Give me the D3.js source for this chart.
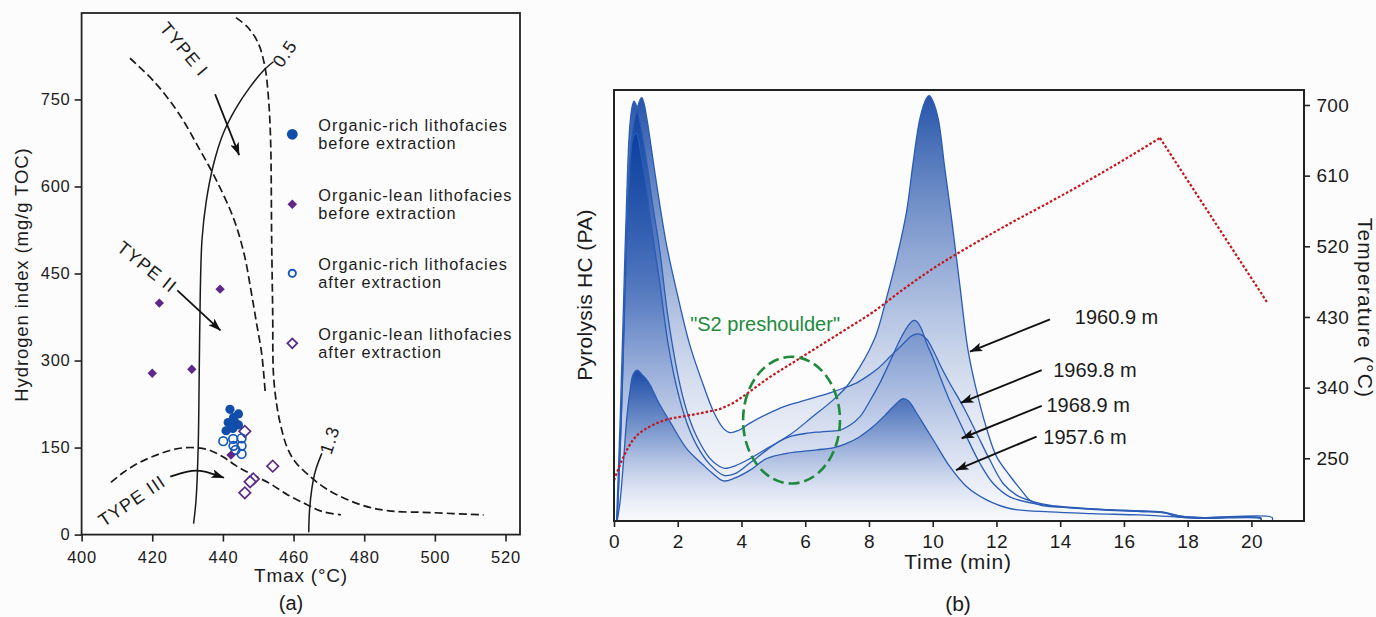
<!DOCTYPE html>
<html>
<head>
<meta charset="utf-8">
<title>Tmax–HI cross-plot and pyrolysis traces</title>
<script src="https://cdn.jsdelivr.net/npm/d3@7/dist/d3.min.js"></script>
<style>
  html, body { margin: 0; padding: 0; background: #fcfcfc; }
  svg { display: block; }
  text { font-family: "Liberation Sans", Arial, Helvetica, sans-serif; fill: #1b1b1b; }
</style>
</head>
<body>
<svg id="fig" width="1376" height="617"></svg>
<script>
// ================= Panel (a): Tmax vs hydrogen index =================
const tmaxTicks = [400, 420, 440, 460, 480, 500, 520];
const hiTicks = [0, 150, 300, 450, 600, 750];

// [Tmax °C, HI mg/g TOC]
const organicRichBefore = [[442.0,216],[444.4,208],[443.0,202],[443.4,193],[441.5,193],[444.4,189],[440.9,179],[442.8,183]];
const organicLeanBefore = [[422.0,399],[439.2,423],[420.0,278],[431.2,285],[442.3,137]];
const organicRichAfter  = [[440.1,161],[442.9,165],[445.3,166],[443.0,153],[445.3,153],[443.6,146],[445.3,139]];
const organicLeanAfter  = [[446.2,178],[454.1,118],[448.6,96],[447.7,91],[446.2,72]];

// kerogen-type boundaries (dashed) and iso-reflectance lines (solid)
const typeIBoundary = [[443.7,891],[447.1,874],[450,847],[451.9,806],[452.9,752],[453.5,680],[453.8,508],[454.1,380],[454.3,278],[455.2,225],[456.4,187],[458.2,150],[460.5,125],[464,104],[469.5,78],[479.2,51],[487,41],[498.7,38],[513.8,34]];
const typeIIBoundary = [[413.7,821],[420.8,779],[427.6,725],[433.4,664],[438.3,609],[443.2,542],[446.1,481],[448,419],[449.5,365],[451,311],[452,243]];
const typeIIIBoundary = [[408.3,90],[412,108],[416,123],[420.3,135],[425,145],[429.8,150],[435.4,147],[440,134],[443.9,118],[448.5,103],[453.3,88],[458.5,68],[463.7,52],[468,40],[473.4,34]];
const ro05 = [[431.7,19],[432.4,60],[433.0,150],[433.3,280],[433.6,420],[434.1,510],[435.3,575],[437.3,637],[440,690],[443.5,733],[447.5,770],[451.5,800],[454.3,815]];
const ro13 = [[464.3,4],[464.5,40],[465.2,80],[466.2,110],[468,140]];

const legendLabels = [
  ["Organic-rich lithofacies", "before extraction"],
  ["Organic-lean lithofacies", "before extraction"],
  ["Organic-rich lithofacies", "after extraction"],
  ["Organic-lean lithofacies", "after extraction"]
];

// ================= Panel (b): pyrograms =================
const timeTicks = [0, 2, 4, 6, 8, 10, 12, 14, 16, 18, 20];
const tempTicks = [250, 340, 430, 520, 610, 700];
const depthLabels = ["1960.9 m", "1969.8 m", "1968.9 m", "1957.6 m"];

// [time min, signal PA (relative)]
const pyro1960_9 = [[0.08,0],[0.2,25],[0.345,62.5],[0.43,82],[0.5,92],[0.58,96.5],[0.63,97.4],[0.68,96.8],[0.76,94.5],[0.9,89],[1.05,82],[1.2,74],[1.44,62.5],[1.7,47],[2.07,31.6],[2.35,24],[2.6,19.5],[3.0,14.6],[3.3,12.7],[3.48,12.2],[3.8,12.8],[4.2,14.2],[4.79,16.8],[5.52,20],[6.2,24],[6.88,28.1],[7.3,31.2],[7.72,35.8],[8.0,39.5],[8.24,43.5],[8.55,51.7],[8.87,61],[9.18,71.8],[9.39,83.4],[9.6,93.4],[9.8,98],[9.89,98.7],[10.0,97.5],[10.17,93.4],[10.38,81.8],[10.59,70.2],[10.85,54.8],[11.1,40],[11.35,31],[11.69,21.5],[12.0,15],[12.42,10.5],[12.75,7.4],[13.05,4.8],[13.4,3.6],[14.0,3.2],[15.24,2.6],[16.5,2.2],[17.3,1.9],[17.6,1.1],[18.2,0.7],[20.3,0.6],[20.3,0]];
const pyro1969_8 = [[0.1,0],[0.25,28],[0.4,66],[0.52,86],[0.64,93],[0.74,96],[0.82,97.8],[0.87,98.2],[0.93,97.2],[1.03,93.4],[1.34,78],[1.65,64],[1.97,53.2],[2.38,40.8],[2.8,31.6],[3.12,25.4],[3.43,21.5],[3.64,20.5],[3.9,21],[4.27,22.7],[4.8,24.8],[5.31,26.5],[5.85,27.7],[6.36,28.8],[6.8,29.8],[7.19,30.8],[7.6,32],[7.93,33.5],[8.3,35.5],[8.66,38.1],[9.1,41.3],[9.35,43],[9.55,43.4],[9.8,42.3],[10.02,39.5],[10.3,35.2],[10.54,31.9],[10.96,26.5],[11.38,20.3],[11.79,14.2],[12.21,8.7],[12.63,6],[13.15,4.5],[13.7,3.6],[14.5,3.1],[15.5,2.6],[16.5,2.3],[17.2,2.1],[17.5,1.6],[17.9,1.0],[18.5,0.7],[20.3,0.7],[20.3,0]];
const pyro1968_9 = [[0.1,0],[0.22,22],[0.35,55],[0.48,80],[0.6,89],[0.7,90],[0.8,87],[1.0,78],[1.2,67],[1.44,55],[1.7,41],[2.0,30],[2.3,22.5],[2.6,17.5],[3.0,13.2],[3.45,10.6],[3.8,11],[4.27,13.5],[4.8,16.5],[5.2,18.5],[5.52,19.6],[6.0,20.3],[6.5,20.7],[7.09,21.1],[7.4,22.2],[7.72,24.2],[8.0,27.5],[8.34,32],[8.66,37],[8.97,42],[9.2,45],[9.39,46.5],[9.5,46.3],[9.65,44.5],[9.81,41.2],[10.0,38],[10.23,33.5],[10.5,28.5],[10.75,24.5],[11.06,19.6],[11.48,13.4],[11.9,8.7],[12.42,5.6],[13.15,4.1],[14,3.3],[15,2.8],[16,2.5],[17,2.2],[17.4,1.7],[17.8,1.1],[18.5,0.8],[20.65,0.8],[20.65,0]];
const pyro1957_6 = [[0.1,0],[0.19,4.5],[0.3,14],[0.4,23.8],[0.5,30],[0.6,34],[0.73,35],[0.85,34.2],[1.0,33],[1.13,31.6],[1.4,27.5],[1.76,23],[2.28,16.8],[2.8,13],[3.1,11],[3.43,9.3],[3.8,10],[4.27,11.8],[4.79,14.5],[5.42,15.7],[6.36,16.5],[6.9,17],[7.3,18],[7.7,19.5],[8.13,21.9],[8.5,24.5],[8.76,26.5],[9.07,28.4],[9.25,27.8],[9.5,25],[9.75,22],[10.02,18.8],[10.54,12.6],[11.06,8],[11.69,4.9],[12.42,2.9],[13.68,2.1],[15,1.7],[16.5,1.4],[17.5,1.0],[18.5,0.6],[20.3,0.5],[20.3,0]];

// oven temperature program [time min, °C]: heating ramp, then cooling
const temperatureRamp = [[0,222],[0.3,252],[0.6,273.5],[0.9,285],[1.13,290.6],[1.65,299.2],[2.17,303.4],[2.6,306.5],[3.01,309.9],[3.3,312.5],[3.53,316.3],[3.8,322],[4.06,329.1],[4.79,350.6],[5.62,372],[6.46,393.4],[7.3,414.8],[8.13,436.3],[8.97,462],[10.02,491.9],[11.06,517.6],[12.74,556.1],[13.52,573],[15.24,612],[17.13,658]];
const temperatureCooling = [[17.13,658],[20.52,447]];

// ================= drawing =================
const svg = d3.select("#fig");
const defs = svg.append("defs");

defs.append("marker")
  .attr("id", "head")
  .attr("viewBox", "0 0 13 9")
  .attr("refX", 12.5).attr("refY", 4.5)
  .attr("markerWidth", 13).attr("markerHeight", 9)
  .attr("markerUnits", "userSpaceOnUse")
  .attr("orient", "auto")
  .append("path")
  .attr("d", "M0,0 L13,4.5 L0,9 L3,4.5 Z")
  .attr("fill", "#111");

function styleAxis(g, size, spacing) {
  g.select(".domain").remove();
  g.selectAll(".tick line").attr("stroke", "#222").attr("stroke-width", 1.6);
  g.selectAll(".tick text")
    .attr("fill", "#1b1b1b")
    .style("font-size", size + "px")
    .style("letter-spacing", spacing + "px")
    .style("font-family", '"Liberation Sans", Arial, sans-serif');
}

// ---------- panel (a) ----------
const pa = { left: 81.6, right: 520, top: 13, bottom: 534.6 };
const xA = d3.scaleLinear().domain([400, 524.1]).range([pa.left, pa.right]);
const yA = d3.scaleLinear().domain([0, 899]).range([pa.bottom, pa.top]);
const gA = svg.append("g");

gA.append("g")
  .attr("transform", `translate(0,${pa.bottom})`)
  .call(d3.axisBottom(xA).tickValues(tmaxTicks).tickSize(7).tickPadding(9.5).tickFormat(d3.format("d")))
  .call(g => styleAxis(g, 16.5, 0.8));
gA.append("g")
  .attr("transform", `translate(${pa.left},0)`)
  .call(d3.axisLeft(yA).tickValues(hiTicks).tickSize(7).tickPadding(4).tickFormat(d3.format("d")))
  .call(g => styleAxis(g, 16.5, 0.8));

const lineA = d3.line().x(d => xA(d[0])).y(d => yA(d[1])).curve(d3.curveCatmullRom.alpha(0.5));

[typeIBoundary, typeIIBoundary, typeIIIBoundary].forEach(pts => {
  gA.append("path").attr("d", lineA(pts))
    .attr("fill", "none").attr("stroke", "#1a1a1a")
    .attr("stroke-width", 1.7).attr("stroke-dasharray", "8,4");
});
[ro05, ro13].forEach(pts => {
  gA.append("path").attr("d", lineA(pts))
    .attr("fill", "none").attr("stroke", "#1a1a1a").attr("stroke-width", 1.5);
});

// kerogen-type arrows
const typeArrowPaths = [
  [[437.8,759],[444.6,654]],
  [[427.1,421],[439.3,352]],
  [[425.1,100],[430,108.5],[434.5,109],[440.3,98]]
];
typeArrowPaths.forEach(pts => {
  gA.append("path")
    .attr("d", d3.line().x(d => xA(d[0])).y(d => yA(d[1])).curve(d3.curveNatural)(pts))
    .attr("fill", "none").attr("stroke", "#111").attr("stroke-width", 1.8)
    .attr("marker-end", "url(#head)");
});

// rotated labels on panel (a)
const typeLabels = [
  { text: "TYPE I",   at: [429.0, 836], angle: 50 },
  { text: "TYPE II",  at: [418.5, 461], angle: 38.6 },
  { text: "TYPE III", at: [414.3, 58],  angle: -34 },
  { text: "0.5",      at: [457.6, 829], angle: -55 },
  { text: "1.3",      at: [470.3, 163], angle: -72 }
];
typeLabels.forEach(l => {
  gA.append("text")
    .attr("transform", `translate(${xA(l.at[0])},${yA(l.at[1])}) rotate(${l.angle})`)
    .attr("text-anchor", "middle").attr("dominant-baseline", "central")
    .style("font-size", "18px").style("letter-spacing", "1.2px")
    .text(l.text);
});

// scatter points
const diamond = d3.symbol().type(d3.symbolSquare);
gA.selectAll(".leanAfter").data(organicLeanAfter).enter().append("path")
  .attr("d", diamond.size(66)())
  .attr("transform", d => `translate(${xA(d[0])},${yA(d[1])}) rotate(45)`)
  .attr("fill", "#fcfcfc").attr("stroke", "#5a2a88").attr("stroke-width", 1.7);
gA.selectAll(".richAfter").data(organicRichAfter).enter().append("circle")
  .attr("cx", d => xA(d[0])).attr("cy", d => yA(d[1])).attr("r", 4.3)
  .attr("fill", "none").attr("stroke", "#1558b5").attr("stroke-width", 1.7);
gA.selectAll(".richBefore").data(organicRichBefore).enter().append("circle")
  .attr("cx", d => xA(d[0])).attr("cy", d => yA(d[1])).attr("r", 4.6)
  .attr("fill", "#104eaa");
gA.selectAll(".leanBefore").data(organicLeanBefore).enter().append("path")
  .attr("d", diamond.size(44)())
  .attr("transform", d => `translate(${xA(d[0])},${yA(d[1])}) rotate(45)`)
  .attr("fill", "#5f2887");

// legend
const legendRows = [134.3, 204.3, 273.3, 343.3];
legendLabels.forEach((lines, i) => {
  const cy = legendRows[i], mx = 292.3;
  if (i === 0) gA.append("circle").attr("cx", mx).attr("cy", cy).attr("r", 5.4).attr("fill", "#104eaa");
  if (i === 1) gA.append("path").attr("d", diamond.size(46)()).attr("transform", `translate(${mx},${cy}) rotate(45)`).attr("fill", "#5f2887");
  if (i === 2) gA.append("circle").attr("cx", mx).attr("cy", cy).attr("r", 3.6).attr("fill", "none").attr("stroke", "#1558b5").attr("stroke-width", 1.9);
  if (i === 3) gA.append("path").attr("d", diamond.size(48)()).attr("transform", `translate(${mx},${cy}) rotate(45)`).attr("fill", "none").attr("stroke", "#5a2a88").attr("stroke-width", 1.8);
  const t = gA.append("text").attr("x", 318.3).attr("y", cy - 3.8)
    .style("font-size", "16.3px").style("letter-spacing", "1px");
  t.append("tspan").attr("x", 318.3).text(lines[0]);
  t.append("tspan").attr("x", 318.3).attr("dy", 18).text(lines[1]);
});

gA.append("rect")
  .attr("x", pa.left).attr("y", pa.top)
  .attr("width", pa.right - pa.left).attr("height", pa.bottom - pa.top)
  .attr("fill", "none").attr("stroke", "#222").attr("stroke-width", 1.8);

gA.append("text").attr("transform", "translate(28,274.6) rotate(-90)")
  .attr("text-anchor", "middle").style("font-size", "18.5px").style("letter-spacing", "0.9px")
  .text("Hydrogen index (mg/g TOC)");
gA.append("text").attr("x", 301).attr("y", 582).attr("text-anchor", "middle")
  .style("font-size", "19px").style("letter-spacing", "0.8px").text("Tmax (°C)");
gA.append("text").attr("x", 291).attr("y", 610).attr("text-anchor", "middle")
  .style("font-size", "20px").text("(a)");

// ---------- panel (b) ----------
const pb = { left: 614, right: 1304, top: 90, bottom: 521 };
const xB = d3.scaleLinear().domain([0, 21.65]).range([pb.left, pb.right]);
const yB = d3.scaleLinear().domain([0, 100]).range([pb.bottom, pb.top]);
const yT = d3.scaleLinear().domain([170.1, 719.1]).range([pb.bottom, pb.top]);
const gB = svg.append("g");

defs.append("clipPath").attr("id", "plotB").append("rect")
  .attr("x", pb.left).attr("y", pb.top).attr("width", pb.right - pb.left).attr("height", pb.bottom - pb.top);

const grad = defs.append("linearGradient").attr("id", "fillGrad")
  .attr("x1", 0).attr("y1", 0).attr("x2", 0).attr("y2", 1);
grad.append("stop").attr("offset", "0%").attr("stop-color", "#0a3e9e").attr("stop-opacity", 0.88);
grad.append("stop").attr("offset", "45%").attr("stop-color", "#3a65b6").attr("stop-opacity", 0.46);
grad.append("stop").attr("offset", "100%").attr("stop-color", "#ccd5f0").attr("stop-opacity", 0.02);

const traces = [pyro1960_9, pyro1969_8, pyro1968_9, pyro1957_6];
const curveB = d3.curveCatmullRom.alpha(0.5);
const areaB = d3.area().x(d => xB(d[0])).y0(yB(0)).y1(d => yB(d[1])).curve(curveB);
const lineB = d3.line().x(d => xB(d[0])).y(d => yB(d[1])).curve(curveB);

const traceG = gB.append("g").attr("clip-path", "url(#plotB)");
traces.forEach(tr => {
  traceG.append("path").attr("d", areaB(tr)).attr("fill", "url(#fillGrad)");
});
traces.forEach(tr => {
  traceG.append("path").attr("d", lineB(tr))
    .attr("fill", "none").attr("stroke", "#2a5cb6").attr("stroke-width", 1.3);
});

// temperature program: smooth heating ramp, straight cooling leg
const tempStyle = p => p.attr("fill", "none").attr("stroke", "#c3161c")
  .attr("stroke-width", 2.2).attr("stroke-dasharray", "2.6,2");
gB.append("path")
  .attr("d", d3.line().x(d => xB(d[0])).y(d => yT(d[1])).curve(d3.curveMonotoneX)(temperatureRamp))
  .call(tempStyle);
gB.append("path")
  .attr("d", d3.line().x(d => xB(d[0])).y(d => yT(d[1]))(temperatureCooling))
  .call(tempStyle);

// S2 preshoulder ellipse and caption
const shoulder = { t: 5.57, s: 23.4, rt: 1.52, rs: 14.7 };
gB.append("ellipse")
  .attr("cx", xB(shoulder.t)).attr("cy", yB(shoulder.s))
  .attr("rx", xB(shoulder.t + shoulder.rt) - xB(shoulder.t))
  .attr("ry", yB(shoulder.s) - yB(shoulder.s + shoulder.rs))
  .attr("fill", "none").attr("stroke", "#1e8a3c").attr("stroke-width", 2.6)
  .attr("stroke-dasharray", "11,5");
gB.append("text").attr("x", xB(4.74)).attr("y", yB(44.1)).attr("text-anchor", "middle")
  .style("font-size", "20px").style("fill", "#1e8a3c").text("\"S2 preshoulder\"");

// depth annotations
const depthAnchors = [
  { text: [14.46, 45.6], from: [13.68, 46.8], to: [11.17, 39.3] },
  { text: [13.78, 33.5], from: [13.42, 35.0], to: [10.88, 27.4] },
  { text: [13.57, 25.4], from: [13.42, 26.7], to: [10.91, 19.2] },
  { text: [13.47, 17.9], from: [13.26, 19.6], to: [10.73, 11.8] }
];
depthLabels.forEach((lab, i) => {
  const a = depthAnchors[i];
  gB.append("line")
    .attr("x1", xB(a.from[0])).attr("y1", yB(a.from[1]))
    .attr("x2", xB(a.to[0])).attr("y2", yB(a.to[1]))
    .attr("stroke", "#111").attr("stroke-width", 1.9).attr("marker-end", "url(#head)");
  gB.append("text").attr("x", xB(a.text[0])).attr("y", yB(a.text[1]))
    .style("font-size", "20px").text(lab);
});

// axes
gB.append("g").attr("transform", `translate(0,${pb.bottom})`)
  .call(d3.axisBottom(xB).tickValues(timeTicks).tickSize(6).tickPadding(8).tickFormat(d3.format("d")))
  .call(g => styleAxis(g, 19, 0.3));
gB.append("g").attr("transform", `translate(${pb.right},0)`)
  .call(d3.axisRight(yT).tickValues(tempTicks).tickSize(6).tickPadding(6.5).tickFormat(d3.format("d")))
  .call(g => styleAxis(g, 19, 0.3));

gB.append("rect")
  .attr("x", pb.left).attr("y", pb.top)
  .attr("width", pb.right - pb.left).attr("height", pb.bottom - pb.top)
  .attr("fill", "none").attr("stroke", "#222").attr("stroke-width", 2);

gB.append("text").attr("transform", "translate(592,295) rotate(-90)")
  .attr("text-anchor", "middle").style("font-size", "21px").style("letter-spacing", "0.3px")
  .text("Pyrolysis HC (PA)");
gB.append("text").attr("transform", "translate(1358,308) rotate(90)")
  .attr("text-anchor", "middle").style("font-size", "21px").style("letter-spacing", "1.2px")
  .text("Temperature (°C)");
gB.append("text").attr("x", 958).attr("y", 569).attr("text-anchor", "middle")
  .style("font-size", "21px").style("letter-spacing", "0.8px").text("Time (min)");
gB.append("text").attr("x", 958).attr("y", 611).attr("text-anchor", "middle")
  .style("font-size", "21px").text("(b)");
</script>
</body>
</html>
